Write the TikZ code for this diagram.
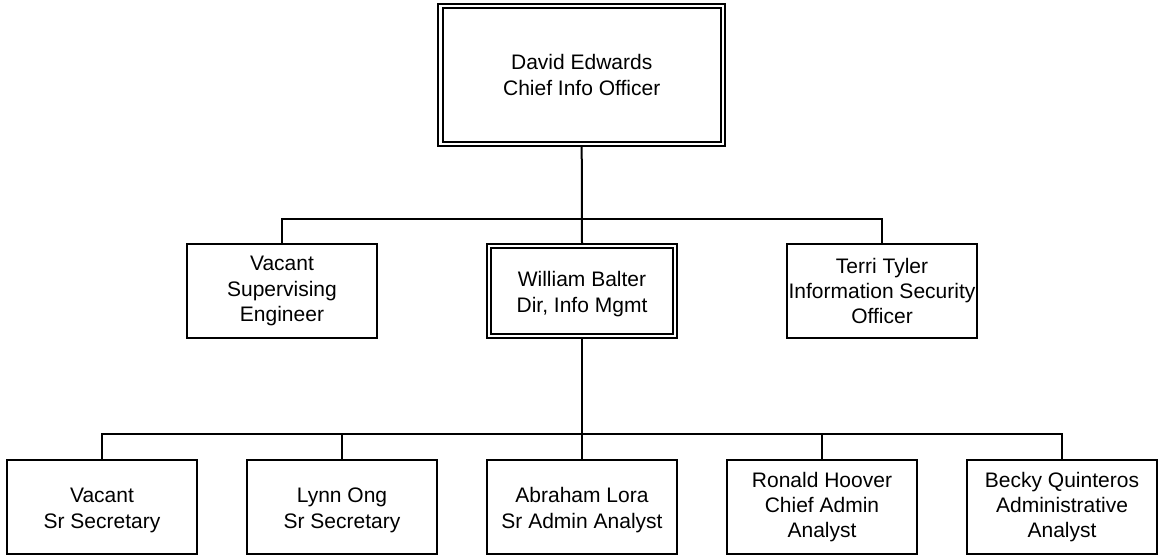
\documentclass[tikz,border=0pt]{standalone}
\usepackage{fontspec}
\setmainfont{Liberation Sans}
\usetikzlibrary{backgrounds}
\begin{document}
\begin{tikzpicture}[x=0.75pt,y=-0.75pt,
  every node/.style={font=\fontsize{15.75}{19}\selectfont, align=center, inner sep=0pt},
  box/.style={draw, line width=1.5pt, fill=white, minimum width=142.5pt, minimum height=70.5pt},
  dbox/.style={draw, line width=1.5pt, double=white, double distance=2pt, fill=white},
  conn/.style={line width=1.5pt}]
\newcommand{\lowr}{\rule{0pt}{16pt}}
\useasboundingbox (0,0) rectangle (1163,556);
% top
\node[dbox, minimum width=211.9pt, minimum height=103.5pt] (ceo) at (581.7,75) {David Edwards\\Chief Info Officer};
% middle row
\node[box] (vac) at (282,291) {Vacant\\Supervising\\Engineer};
\node[dbox, minimum width=139.5pt, minimum height=67.5pt] (wb) at (582,291) {\lowr William Balter\\Dir, Info Mgmt};
\node[box] (tt) at (882,291) {Terri Tyler\\Information Security\\Officer};
% bottom row
\node[box] (b1) at (102,507) {\lowr Vacant\\Sr Secretary};
\node[box] (b2) at (342,507) {\lowr Lynn Ong\\Sr Secretary};
\node[box] (b3) at (582,507) {\lowr Abraham Lora\\Sr Admin Analyst};
\node[box] (b4) at (822,507) {Ronald Hoover\\Chief Admin\\Analyst};
\node[box] (b5) at (1062,507) {Becky Quinteros\\Administrative\\Analyst};
\coordinate (j1) at (582,219);
\coordinate (j2) at (582,434);
\begin{scope}[on background layer]
\draw[conn] (ceo.south) -- (wb.north);
\draw[conn] (vac.north) |- (j1) -| (tt.north);
\draw[conn] (wb.south) -- (b3.north);
\draw[conn] (b1.north) |- (j2) -| (b5.north);
\draw[conn] (b2.north) -- (b2.north |- j2);
\draw[conn] (b4.north) -- (b4.north |- j2);
\end{scope}
\end{tikzpicture}
\end{document}
